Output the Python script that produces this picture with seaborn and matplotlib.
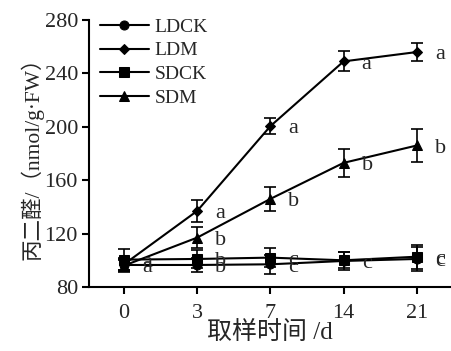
import numpy as np
import pandas as pd
import matplotlib
matplotlib.use("Agg")
import matplotlib.pyplot as plt
import seaborn as sns

# ---- data ----
days = ["0", "3", "7", "14", "21"]
series_names = ["LDCK", "LDM", "SDCK", "SDM"]
ldck = [96.5, 96.5, 97, 99.5, 101]
ldm = [97, 137, 200.5, 249, 256]
sdck = [100.5, 101, 102, 100, 102.7]
sdm = [96, 117, 146, 173, 186]
ldck_err = [5, 5, 7, 7, 9]
ldm_err = [4, 8, 6, 7.5, 6.5]
sdck_err = [8, 7, 7, 6, 9]
sdm_err = [4, 8, 9, 10.5, 12.5]
ldck_sig = ["a", "b", "c", "c", "c"]
ldm_sig = ["", "a", "a", "a", "a"]
sdck_sig = ["a", "b", "c", "", "c"]
sdm_sig = ["", "b", "b", "b", "b"]
ylabel = "丙二醛/（nmol/g·FW）"
xlabel = "取样时间 /d"
yticks = [80, 120, 160, 200, 240, 280]

values = {"LDCK": ldck, "LDM": ldm, "SDCK": sdck, "SDM": sdm}
errs = {"LDCK": ldck_err, "LDM": ldm_err, "SDCK": sdck_err, "SDM": sdm_err}
sigs = {"LDCK": ldck_sig, "LDM": ldm_sig, "SDCK": sdck_sig, "SDM": sdm_sig}
markers = {"LDCK": "o", "LDM": "D", "SDCK": "s", "SDM": "^"}
msizes = {"LDCK": 6.5, "LDM": 5, "SDCK": 6.5, "SDM": 6.5}

rows = []
for s in series_names:
    for i, v in enumerate(values[s]):
        rows.append({"pos": i, "val": v, "series": s})
df = pd.DataFrame(rows)

sns.set_style("ticks")
plt.rcParams["font.family"] = ["Liberation Serif", "Noto Sans CJK SC"]

fig = plt.figure(figsize=(4.51, 3.51), dpi=100)
W, H = 451, 351
left, right, top, bottom = 89, 451, 20, 287
ax = fig.add_axes([left / W, 1 - bottom / H, (right - left) / W, (bottom - top) / H])

for s in series_names:
    sub = df[df.series == s]
    sns.lineplot(data=sub, x="pos", y="val", ax=ax, color="black", marker=markers[s],
                 markersize=msizes[s], linewidth=1.5, label=s, errorbar=None,
                 markeredgecolor="black", markerfacecolor="black")
    ax.errorbar(sub["pos"], sub["val"], yerr=errs[s], fmt="none", ecolor="black",
                elinewidth=1.2, capsize=4, capthick=1.2)
    for i, (v, t) in enumerate(zip(values[s], sigs[s])):
        if t:
            ax.annotate(t, (i, v), xytext=(13, -2), textcoords="offset points",
                        ha="left", va="center", fontsize=16)

px = 73.2
ax.set_xlim((left - 124) / px, (right - 124) / px)
ax.set_ylim(80, 280)
ax.set_xticks(range(len(days)))
ax.set_xticklabels(days, fontsize=16)
ax.set_yticks(yticks)
ax.set_yticklabels([str(t) for t in yticks], fontsize=16)
ax.set_xlabel(xlabel, fontsize=18, labelpad=-1)
ax.set_ylabel(ylabel, fontsize=15.5, labelpad=1)
sns.despine(ax=ax)
for sp in ["left", "bottom"]:
    ax.spines[sp].set_linewidth(1.5)
    ax.spines[sp].set_color("black")
ax.tick_params(axis="both", direction="out", length=5, width=1.5, color="black", pad=3)
ax.tick_params(axis="x", pad=7)

ax.legend(loc="upper left", bbox_to_anchor=(100 / W, 1 - 18 / H), bbox_transform=fig.transFigure,
          frameon=False, fontsize=14, borderpad=0, labelspacing=0.32, handlelength=2.5,
          handletextpad=0.3, borderaxespad=0)

fig.savefig("out.png", dpi=100)
